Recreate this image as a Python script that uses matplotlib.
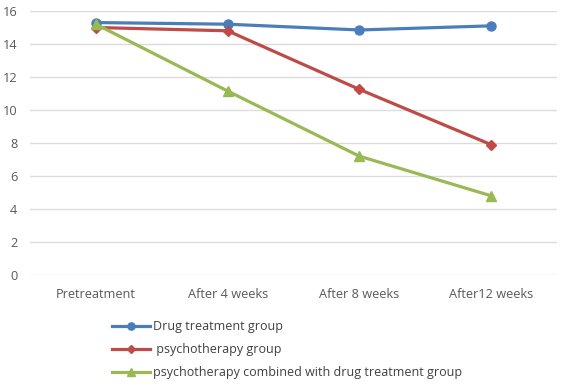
import matplotlib
matplotlib.use("Agg")
import matplotlib.pyplot as plt

categories = ["Pretreatment", "After 4 weeks", "After 8 weeks", "After12 weeks"]
drug = [15.3, 15.2, 14.85, 15.1]
psycho = [15.0, 14.8, 11.25, 7.9]
combined = [15.2, 11.15, 7.2, 4.8]
series_names = ["Drug treatment group", " psychotherapy group",
                "psychotherapy combined with drug treatment group"]
yticks = [0, 2, 4, 6, 8, 10, 12, 14, 16]

plt.rcParams['font.family'] = ['Open Sans', 'DejaVu Sans']

fig = plt.figure(figsize=(5.61, 3.85), dpi=100)
ax = fig.add_axes([30/561, 1-275/385, 527/561, 264/385])

x = list(range(len(categories)))
l1, = ax.plot(x, drug, color="#4a7ebb", lw=2.3, marker="o", ms=6.5, label=series_names[0])
l2, = ax.plot(x, psycho, color="#be4b48", lw=2.3, marker="D", ms=5, label=series_names[1])
l3, = ax.plot(x, combined, color="#98b954", lw=2.3, marker="^", ms=6.5, label=series_names[2])

ax.set_xlim(-0.5, 3.5)
ax.set_ylim(0, 16)
ax.set_yticks(yticks)
ax.set_yticklabels([str(v) for v in yticks])
ax.set_xticks(x)
ax.set_xticklabels(categories)
ax.grid(axis="y", color="#dcdcdc", lw=1)
ax.set_axisbelow(True)
for s in ax.spines.values():
    s.set_visible(False)
ax.tick_params(axis="both", length=0, colors="#595959", labelsize=9.2)
ax.tick_params(axis="x", pad=9)
ax.tick_params(axis="y", pad=9)

fig.legend(handles=[l1, l2, l3], loc="upper left", bbox_to_anchor=(107/561, 1-315/385),
           frameon=False, fontsize=9.0, labelcolor="#404040", handlelength=3,
           handletextpad=0.25, labelspacing=0.8, borderaxespad=0, markerscale=0.8)

fig.savefig("out.png", dpi=100)
